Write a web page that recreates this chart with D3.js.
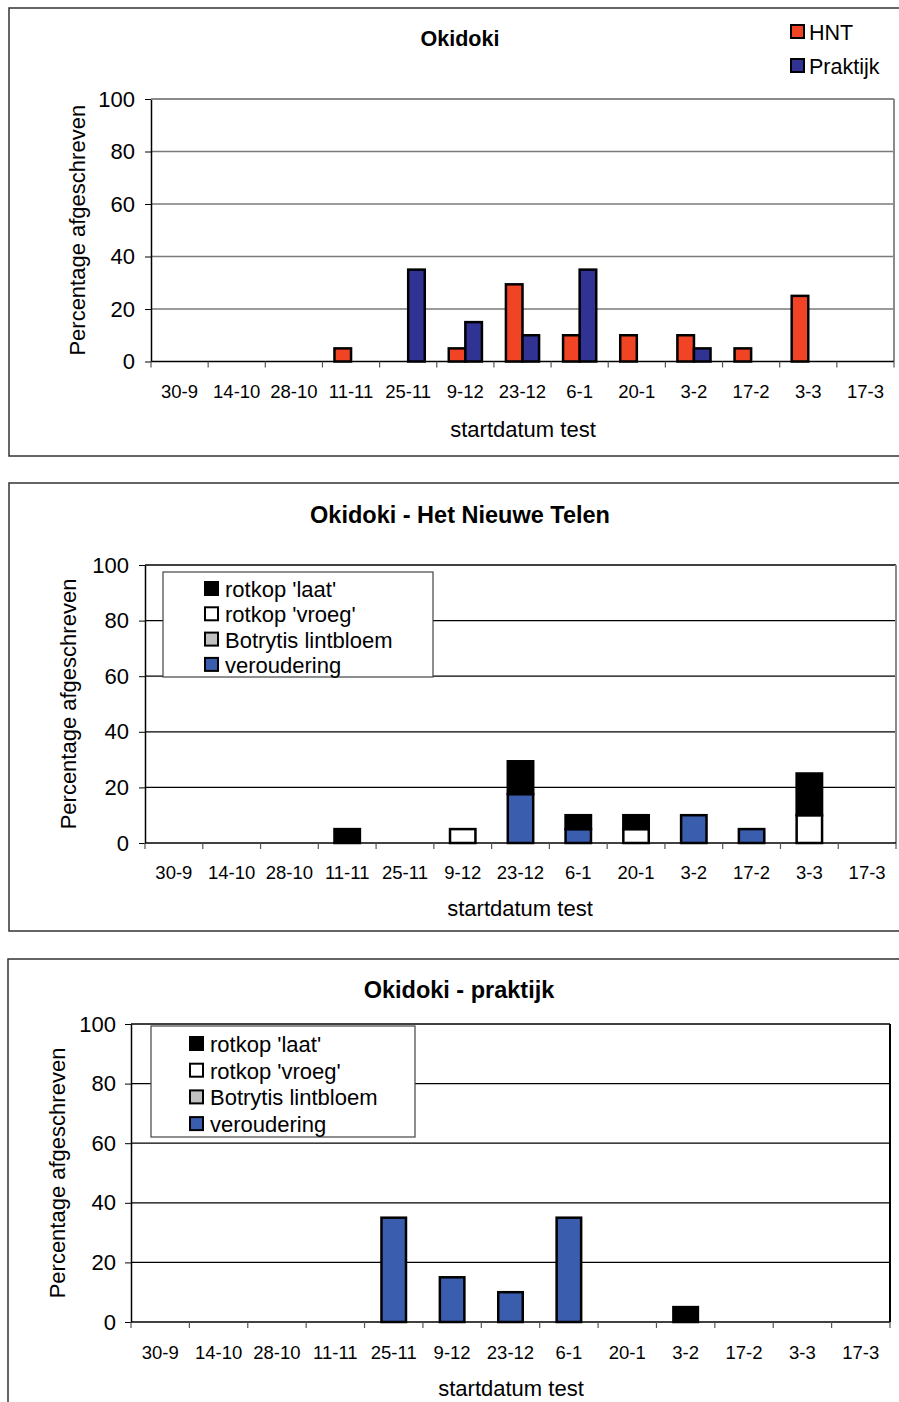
<!DOCTYPE html>
<html>
<head>
<meta charset="utf-8">
<script src="https://cdn.jsdelivr.net/npm/d3@7"></script>
<style>
  body { margin: 0; background: #fff; }
  text { font-family: "Liberation Sans", Arial, sans-serif; fill: #000; }
</style>
</head>
<body>
<div id="chart"></div>
<script>
// Data
var dates = ["30-9", "14-10", "28-10", "11-11", "25-11", "9-12", "23-12", "6-1", "20-1", "3-2", "17-2", "3-3", "17-3"];
var yTicks = [0, 20, 40, 60, 80, 100];

// chart 1: percentage written off per test
var hntValues      = [0, 0, 0, 5, 0, 5, 29.4, 10, 10, 10, 5, 25, 0];
var praktijkValues = [0, 0, 0, 0, 35, 15, 10, 35, 0, 5, 0, 0, 0];

// chart 2: Het Nieuwe Telen, by cause
var hntVeroudering = [0, 0, 0, 0, 0, 0, 17.6, 5, 0, 10, 5, 0, 0];
var hntBotrytis    = [0, 0, 0, 0, 0, 0, 0, 0, 0, 0, 0, 0, 0];
var hntVroeg       = [0, 0, 0, 0, 0, 5, 0, 0, 5, 0, 0, 10, 0];
var hntLaat        = [0, 0, 0, 5, 0, 0, 11.8, 5, 5, 0, 0, 15, 0];

// chart 3: praktijk, by cause
var prVeroudering = [0, 0, 0, 0, 35, 15, 10, 35, 0, 0, 0, 0, 0];
var prBotrytis    = [0, 0, 0, 0, 0, 0, 0, 0, 0, 0, 0, 0, 0];
var prVroeg       = [0, 0, 0, 0, 0, 0, 0, 0, 0, 0, 0, 0, 0];
var prLaat        = [0, 0, 0, 0, 0, 0, 0, 0, 0, 5, 0, 0, 0];

var causeNames = ["rotkop 'laat'", "rotkop 'vroeg'", "Botrytis lintbloem", "veroudering"];
var causeColors = {"rotkop 'laat'": "#000000", "rotkop 'vroeg'": "#ffffff", "Botrytis lintbloem": "#c0c0c0", "veroudering": "#3a5dae"};

var svg = d3.select("#chart")
  .append("svg")
  .attr("width", 899)
  .attr("height", 1402);

// Draws box, title, grid, axes and labels; returns the scales
function drawFrame(cfg) {
  svg.append("rect")
    .attr("x", cfg.box[0]).attr("y", cfg.box[1])
    .attr("width", cfg.box[2]).attr("height", cfg.box[3])
    .attr("fill", "none").attr("stroke", "#333").attr("stroke-width", 1.5);

  var x = d3.scaleBand().domain(dates).range([cfg.left, cfg.right]).padding(0);
  var y = d3.scaleLinear().domain([0, 100]).range([cfg.bottom, cfg.top]);

  // gridlines
  svg.append("g")
    .selectAll("line")
    .data(yTicks.filter(d => d > 0))
    .enter()
    .append("line")
    .attr("x1", cfg.left).attr("x2", cfg.right)
    .attr("y1", d => y(d)).attr("y2", d => y(d))
    .attr("stroke", cfg.gridColor).attr("stroke-width", cfg.gridWidth);

  // right border of plot area
  svg.append("line")
    .attr("x1", cfg.right).attr("x2", cfg.right)
    .attr("y1", cfg.top).attr("y2", cfg.bottom)
    .attr("stroke", cfg.rightColor).attr("stroke-width", 2);

  // y axis
  var leftAxis = d3.axisLeft(y).tickValues(yTicks).tickSize(6).tickSizeOuter(0);
  var ya = svg.append("g")
    .attr("transform", `translate(${cfg.left}, 0)`)
    .call(leftAxis);
  ya.select(".domain").attr("stroke", "#000").attr("stroke-width", 1.5);
  ya.selectAll(".tick line").attr("stroke", "#000");
  ya.selectAll(".tick text")
    .attr("x", -cfg.yLabelGap)
    .style("font-size", "22px")
    .style("font-family", "Liberation Sans, Arial, sans-serif")
    .attr("fill", "#000");

  // x axis line and boundary ticks
  svg.append("line")
    .attr("x1", cfg.left).attr("x2", cfg.right)
    .attr("y1", cfg.bottom).attr("y2", cfg.bottom)
    .attr("stroke", "#000").attr("stroke-width", 1.5);
  var bounds = dates.map(d => x(d)).concat([cfg.right]);
  svg.append("g")
    .selectAll("line")
    .data(bounds)
    .enter()
    .append("line")
    .attr("x1", d => d).attr("x2", d => d)
    .attr("y1", cfg.bottom).attr("y2", cfg.bottom + 6)
    .attr("stroke", "#555").attr("stroke-width", 1.2);

  svg.append("g")
    .selectAll("text")
    .data(dates)
    .enter()
    .append("text")
    .attr("x", d => x(d) + x.bandwidth() / 2)
    .attr("y", cfg.xLabelY)
    .attr("text-anchor", "middle")
    .style("font-size", "18.5px")
    .text(d => d);

  // titles
  svg.append("text")
    .attr("x", cfg.titleX).attr("y", cfg.titleY)
    .attr("text-anchor", "middle")
    .style("font-size", cfg.titleSize)
    .style("font-weight", "bold")
    .text(cfg.title);

  svg.append("text")
    .attr("x", cfg.xTitleX).attr("y", cfg.xTitleY)
    .attr("text-anchor", "middle")
    .style("font-size", "22px")
    .text("startdatum test");

  svg.append("text")
    .attr("transform", `translate(${cfg.yTitleX}, ${(cfg.top + cfg.bottom) / 2}) rotate(-90)`)
    .attr("text-anchor", "middle")
    .attr("dy", "0.35em")
    .style("font-size", "22px")
    .text("Percentage afgeschreven");

  return {x: x, y: y};
}

// ---------- chart 1: grouped bars ----------
var cfg1 = {
  box: [9, 8, 900, 448], left: 151, right: 894, top: 99, bottom: 361.5,
  gridColor: "#7a7a7a", gridWidth: 1.5, rightColor: "#8a8a8a", yLabelGap: 16,
  xLabelY: 398, title: "Okidoki", titleX: 460, titleY: 46, titleSize: "21.5px",
  xTitleX: 523, xTitleY: 437, yTitleX: 77
};
var s1 = drawFrame(cfg1);
// top border of plot area in grey
svg.append("line")
  .attr("x1", cfg1.left).attr("x2", cfg1.right)
  .attr("y1", cfg1.top).attr("y2", cfg1.top)
  .attr("stroke", "#8a8a8a").attr("stroke-width", 2);

var groupRows = dates.map((d, i) => ({date: d, HNT: hntValues[i], Praktijk: praktijkValues[i]}));
var seriesKeys = ["HNT", "Praktijk"];
var seriesColors = {HNT: "#f04424", Praktijk: "#303394"};
var groupWidth = s1.x.bandwidth() * 0.58;
var xSub = d3.scaleBand().domain(seriesKeys).range([0, groupWidth]);

svg.append("g")
  .selectAll("g")
  .data(groupRows)
  .enter()
  .append("g")
  .attr("transform", d => `translate(${s1.x(d.date) + (s1.x.bandwidth() - groupWidth) / 2}, 0)`)
  .selectAll("rect")
  .data(d => seriesKeys.map(k => ({key: k, value: d[k]})).filter(v => v.value > 0))
  .enter()
  .append("rect")
  .attr("x", d => xSub(d.key))
  .attr("y", d => s1.y(d.value))
  .attr("width", xSub.bandwidth())
  .attr("height", d => s1.y(0) - s1.y(d.value))
  .attr("fill", d => seriesColors[d.key])
  .attr("stroke", "#000").attr("stroke-width", 2.5);

// legend chart 1
var leg1 = svg.append("g");
seriesKeys.forEach(function(k, i) {
  leg1.append("rect")
    .attr("x", 791).attr("y", 25 + i * 34)
    .attr("width", 13).attr("height", 13)
    .attr("fill", seriesColors[k]).attr("stroke", "#000").attr("stroke-width", 2);
  leg1.append("text")
    .attr("x", 809).attr("y", 40 + i * 34)
    .style("font-size", "21.5px")
    .text(k);
});

// ---------- stacked charts ----------
function drawStacked(cfg, ver, bot, vroeg, laat) {
  var s = drawFrame(cfg);
  var rows = dates.map((d, i) => ({
    date: d,
    "veroudering": ver[i],
    "Botrytis lintbloem": bot[i],
    "rotkop 'vroeg'": vroeg[i],
    "rotkop 'laat'": laat[i]
  }));
  var stack = d3.stack().keys(causeNames.slice().reverse());
  var layers = stack(rows);
  var bw = s.x.bandwidth() * cfg.barFrac;

  svg.append("g")
    .selectAll("g")
    .data(layers)
    .enter()
    .append("g")
    .attr("fill", d => causeColors[d.key])
    .selectAll("rect")
    .data(d => d.filter(p => p[1] - p[0] > 0))
    .enter()
    .append("rect")
    .attr("x", d => s.x(d.data.date) + (s.x.bandwidth() - bw) / 2)
    .attr("y", d => s.y(d[1]))
    .attr("width", bw)
    .attr("height", d => s.y(d[0]) - s.y(d[1]))
    .attr("stroke", "#000").attr("stroke-width", 2.5);

  // legend box
  var lg = svg.append("g");
  lg.append("rect")
    .attr("x", cfg.legend[0]).attr("y", cfg.legend[1])
    .attr("width", cfg.legend[2]).attr("height", cfg.legend[3])
    .attr("fill", "#fff").attr("stroke", "#444").attr("stroke-width", 1.2);
  causeNames.forEach(function(k, i) {
    var cy = cfg.legendY0 + i * cfg.legendStep;
    lg.append("rect")
      .attr("x", cfg.legendSwX).attr("y", cy - 7)
      .attr("width", 13).attr("height", 13)
      .attr("fill", causeColors[k]).attr("stroke", "#000").attr("stroke-width", 2);
    lg.append("text")
      .attr("x", cfg.legendSwX + 20).attr("y", cy)
      .attr("dy", "0.36em")
      .style("font-size", "22px")
      .text(k);
  });
}

var cfg2 = {
  box: [9, 483, 900, 448], left: 145, right: 896, top: 565, bottom: 843,
  gridColor: "#000", gridWidth: 1.3, rightColor: "#8a8a8a", yLabelGap: 16,
  xLabelY: 879, title: "Okidoki - Het Nieuwe Telen", titleX: 460, titleY: 523, titleSize: "23.5px",
  xTitleX: 520, xTitleY: 916, yTitleX: 68, barFrac: 0.44,
  legend: [163, 572, 270, 105], legendY0: 589, legendStep: 25.3, legendSwX: 205
};
drawStacked(cfg2, hntVeroudering, hntBotrytis, hntVroeg, hntLaat);

var cfg3 = {
  box: [8, 959, 900, 460], left: 131, right: 890, top: 1024, bottom: 1322,
  gridColor: "#000", gridWidth: 1.3, rightColor: "#000", yLabelGap: 15,
  xLabelY: 1359, title: "Okidoki - praktijk", titleX: 459, titleY: 998, titleSize: "23.5px",
  xTitleX: 511, xTitleY: 1396, yTitleX: 57, barFrac: 0.42,
  legend: [151, 1026, 264, 111], legendY0: 1044, legendStep: 26.7, legendSwX: 190
};
drawStacked(cfg3, prVeroudering, prBotrytis, prVroeg, prLaat);
</script>
</body>
</html>
